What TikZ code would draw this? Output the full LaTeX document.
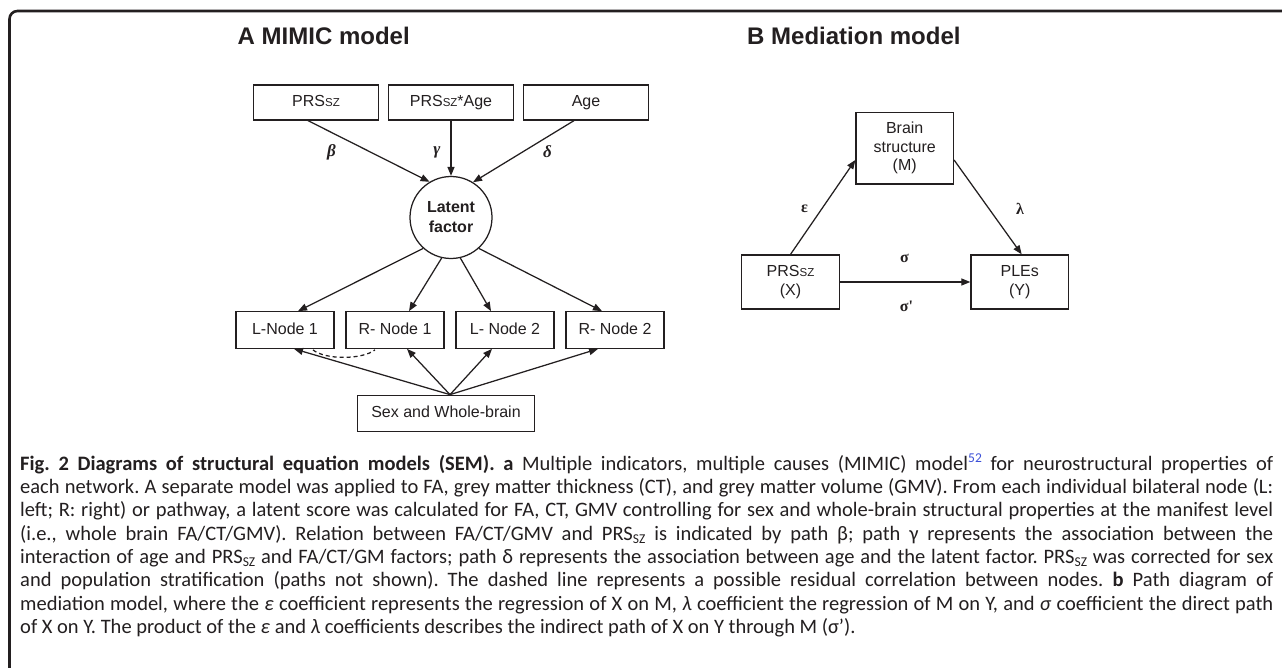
\documentclass[tikz,border=0pt]{standalone}
\usepackage{fontspec}
\setmainfont{Liberation Sans}
\newfontfamily\capfont{Carlito}
\newfontfamily\grkfont{Liberation Serif}
\usetikzlibrary{arrows.meta,calc}
\definecolor{ink}{HTML}{231F20}
\definecolor{reflink}{HTML}{3B4FD8}
\newcommand\boxsz{{\fontsize{11.5}{12}\selectfont SZ}}
\newcommand\capsub[1]{\raisebox{-3.5pt}{\fontsize{13.5}{14}\selectfont #1}}
\newcommand\supref[1]{\raisebox{8pt}{\fontsize{13.5}{14}\selectfont\color{reflink}#1}}
\newcommand\capline[1]{\hbox to 1253pt{#1}}
\frenchspacing
\begin{document}
\begin{tikzpicture}[x=1pt,y=-1pt,
  box/.style={draw=ink, line width=1.25pt, minimum width=#1, inner sep=0pt,
    font=\fontsize{16}{18.5}\selectfont, text=ink, align=center},
  onel/.style={text height=12pt, text depth=3.5pt},
  arr/.style={draw=ink, line width=1.25pt, -{Triangle[length=9pt,width=7pt]}},
  glab/.style={font=\grkfont\bfseries\itshape\fontsize{17}{17}\selectfont, text=ink, inner sep=0pt},
  blab/.style={font=\grkfont\bfseries\fontsize{16}{16}\selectfont, text=ink, inner sep=0pt},
  ttl/.style={font=\bfseries\fontsize{24}{24}\selectfont, text=ink, anchor=base west, inner sep=0pt},
  captxt/.style={font=\capfont\fontsize{20.5}{23}\selectfont, text=ink, anchor=base west, inner sep=0pt}]
\useasboundingbox (0,0) rectangle (1282,668);
\fill[white] (0,0) rectangle (1282,668);
\draw[ink, line width=2.6pt, rounded corners=8pt] (1284,11) -- (9.5,11) -- (9.5,670);

% Titles
\node[ttl] (titleA) at (237.5,45) {A MIMIC model};
\node[ttl] (titleB) at (747,45) {B Mediation model};

% Panel A
\node[box=125pt, minimum height=35pt, onel] (prs) at (316,102.5) {PRS\boxsz};
\node[box=125pt, minimum height=35pt, onel] (prsage) at (451,102.5) {PRS\boxsz*Age};
\node[box=125pt, minimum height=35pt, onel] (age) at (586,102.5) {Age};
\node[draw=ink, line width=1.25pt, circle, minimum size=82pt, inner sep=0pt,
  font=\bfseries\fontsize{16}{20}\selectfont, text=ink, align=center] (lat) at (451,217.5) {Latent\\factor};

\draw[arr] ($(prs.south)+(-8,0)$) -- (lat.121);
\draw[arr] (prsage.south) -- (lat.north);
\draw[arr] ($(age.south)+(-12,0)$) -- (lat.58);
\node[glab] (lb) at (331.5,152) {β};
\node[glab] (lg) at (437,152) {γ};
\node[glab] (ld) at (547.5,152) {δ};

\node[box=98pt, minimum height=36.5pt, onel] (ln1) at (285,330) {L-Node 1};
\node[box=98pt, minimum height=36.5pt, onel] (rn1) at (395,330) {R- Node 1};
\node[box=98pt, minimum height=36.5pt, onel] (ln2) at (505,330) {L- Node 2};
\node[box=98pt, minimum height=36.5pt, onel] (rn2) at (615,330) {R- Node 2};

\draw[arr] (lat.228) -- ($(ln1.north)+(13,0)$);
\draw[arr] (lat.257) -- ($(rn1.north)+(14,0)$);
\draw[arr] (lat.283) -- ($(ln2.north)+(-14,0)$);
\draw[arr] (lat.312) -- ($(rn2.north)+(-13,0)$);

\node[box=177pt, minimum height=36.5pt, onel] (sex) at (446,413.5) {Sex and Whole-brain};
\coordinate (sxtop) at ($(sex.north)+(4,0)$);
\draw[arr] (sxtop) -- ($(ln1.south)+(9,0)$);
\draw[arr] (sxtop) -- ($(rn1.south)+(12,0)$);
\draw[arr] (sxtop) -- ($(ln2.south)+(-13,0)$);
\draw[arr] (sxtop) -- ($(rn2.south)+(-17,0)$);

\draw[ink, line width=1.25pt, dash pattern=on 4pt off 3pt]
  ($(ln1.south)+(28,1)$) .. controls +(12,10) and +(-13,10) .. ($(rn1.south)+(-20,1)$);

% Panel B
\node[box=97.5pt, minimum height=71.5pt] (mbox) at (904.7,148.3) {Brain\\structure\\(M)};
\node[box=97.5pt, minimum height=54pt] (xbox) at (790.5,282) {PRS\boxsz\\(X)};
\node[box=97.5pt, minimum height=54pt] (ybox) at (1019.7,282) {PLEs\\(Y)};

\draw[arr] (xbox.north) -- ($(mbox.west)+(0,11.7)$);
\draw[arr] ($(mbox.east)+(0,11.7)$) -- ($(ybox.north)+(2,0)$);
\draw[arr] (xbox.east) -- (ybox.west);
\node[blab] (le) at (804.5,208.5) {ε};
\node[blab] (ll) at (1020,208.5) {λ};
\node[blab] (ls) at (904.5,258) {σ};
\node[blab] (lsp) at (906.5,306) {σ'};

% Caption
\node[captxt] (cap1) at (20,470) {\capline{\bfseries Fig. 2 Diagrams of structural equation models (SEM). a\mdseries\ Multiple indicators, multiple causes (MIMIC) model\supref{52} for neurostructural properties of}};
\node[captxt] (cap2) at (20,493.33) {\capline{each network. A separate model was applied to FA, grey matter thickness (CT), and grey matter volume (GMV). From each individual bilateral node (L:}};
\node[captxt] (cap3) at (20,516.67) {\capline{left; R: right) or pathway, a latent score was calculated for FA, CT, GMV controlling for sex and whole-brain structural properties at the manifest level}};
\node[captxt] (cap4) at (20,540) {\capline{(i.e., whole brain FA/CT/GMV). Relation between FA/CT/GMV and PRS\capsub{SZ} is indicated by path β; path γ represents the association between the}};
\node[captxt] (cap5) at (20,563.33) {\capline{interaction of age and PRS\capsub{SZ} and FA/CT/GM factors; path δ represents the association between age and the latent factor. PRS\capsub{SZ} was corrected for sex}};
\node[captxt] (cap6) at (20,586.67) {\capline{and population stratification (paths not shown). The dashed line represents a possible residual correlation between nodes. \textbf{b} Path diagram of}};
\node[captxt] (cap7) at (20,610) {\capline{mediation model, where the \textit{ε} coefficient represents the regression of X on M, \textit{λ} coefficient the regression of M on Y, and \textit{σ} coefficient the direct path}};
\node[captxt] (cap8) at (20,633.33) {of X on Y. The product of the \textit{ε} and \textit{λ} coefficients describes the indirect path of X on Y through M (σ’).};
\end{tikzpicture}
\end{document}
